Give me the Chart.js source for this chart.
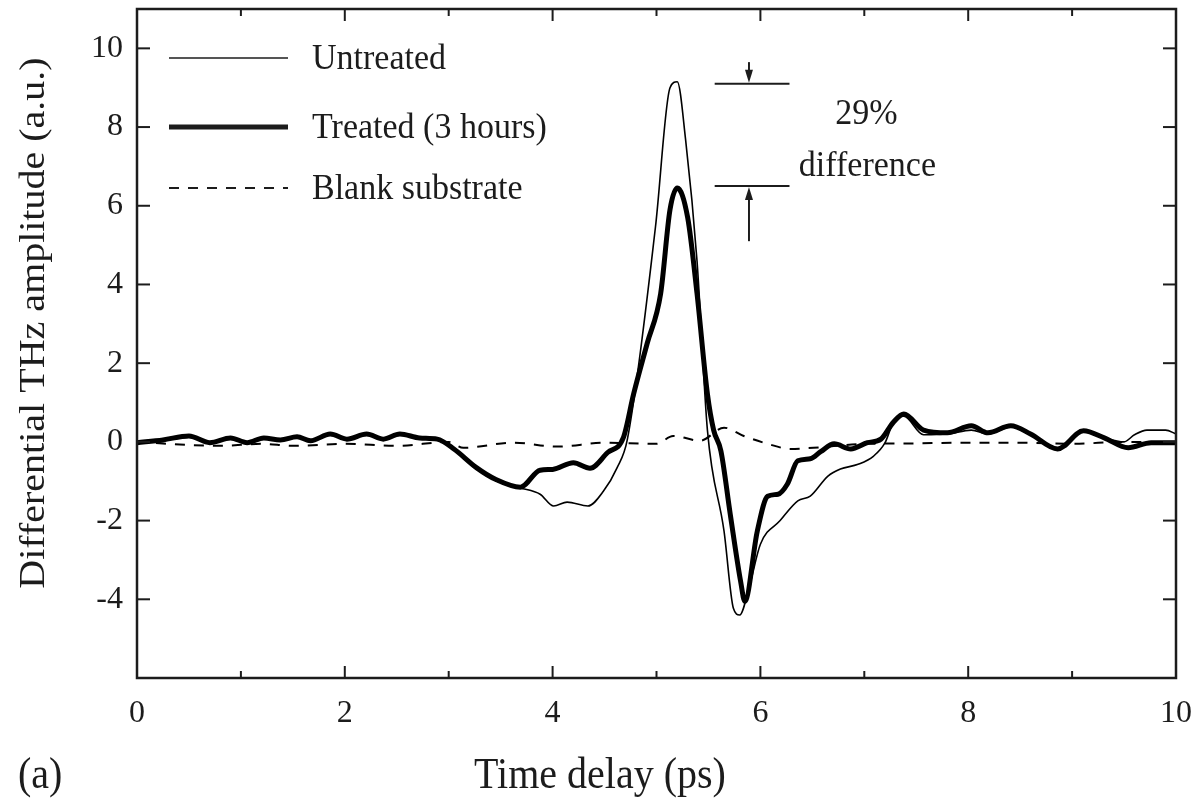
<!DOCTYPE html>
<html>
<head>
<meta charset="utf-8">
<script src="https://cdn.jsdelivr.net/npm/chart.js@4.4.0/dist/chart.umd.min.js"></script>
<style>
  html, body { margin: 0; padding: 0; background: #fff; }
  #wrap { width: 1199px; height: 798px; position: relative; }
</style>
</head>
<body>
<div id="wrap"><canvas id="thzChart"></canvas></div>
<script>
// values (time in ps, amplitude in a.u.)
const untreatedTime = [0, 0.25, 0.5, 0.7, 0.9, 1.06, 1.22, 1.38, 1.54, 1.67, 1.86, 2.02, 2.21, 2.37, 2.53, 2.72, 2.89,
  3.05, 3.27, 3.45, 3.69, 3.88, 4.01, 4.14, 4.34, 4.49, 4.62, 4.72, 4.99, 5.13, 5.2, 5.28, 5.39, 5.49, 5.65, 5.74, 5.8,
  5.9, 6.0, 6.19, 6.36, 6.48, 6.65, 6.77, 6.94, 7.09, 7.2, 7.28, 7.38, 7.57, 7.8, 8.03, 8.19, 8.41, 8.6, 8.86, 9.11,
  9.31, 9.5, 9.6, 9.72, 9.9, 10];
const untreatedAmp = [0.0, 0.03, 0.12, 0.0, 0.08, 0.0, 0.08, 0.05, 0.1, 0.05, 0.18, 0.08, 0.18, 0.1, 0.18, 0.1, 0.05,
  -0.2, -0.7, -0.98, -1.17, -1.33, -1.63, -1.53, -1.63, -1.25, -0.66, 0.07, 5.46, 9.0, 9.15, 7.68, 4.6, 0.3, -2.27, -4.23, -4.4,
  -3.6, -2.6, -2.0, -1.5, -1.38, -0.87, -0.69, -0.57, -0.36, -0.02, 0.5, 0.65, 0.18, 0.2, 0.3, 0.2, 0.38, 0.18, -0.2, 0.28,
  0.1, 0.0, 0.18, 0.3, 0.3, 0.2];

const treatedTime = [0, 0.25, 0.5, 0.7, 0.9, 1.06, 1.22, 1.38, 1.54, 1.67, 1.86, 2.02, 2.21, 2.37, 2.53, 2.72, 2.89,
  3.05, 3.27, 3.45, 3.69, 3.88, 4.0, 4.2, 4.36, 4.53, 4.68, 4.78, 4.91, 5.04, 5.13, 5.2, 5.3, 5.39, 5.49, 5.55, 5.62,
  5.71, 5.81, 5.85, 5.97, 6.07, 6.17, 6.26, 6.36, 6.48, 6.58, 6.71, 6.87, 7.03, 7.16, 7.28, 7.38, 7.57, 7.8, 8.03, 8.19,
  8.41, 8.6, 8.86, 9.11, 9.31, 9.54, 9.76, 10];
const treatedAmp = [-0.02, 0.05, 0.15, -0.02, 0.1, -0.02, 0.1, 0.05, 0.13, 0.03, 0.2, 0.07, 0.2, 0.07, 0.2, 0.1, 0.07,
  -0.18, -0.66, -0.95, -1.15, -0.72, -0.7, -0.53, -0.67, -0.27, 0.1, 1.22, 2.5, 3.77, 5.9, 6.45, 5.7, 3.77, 1.22, 0.3, -0.23,
  -1.84, -3.55, -4.05, -2.27, -1.38, -1.33, -1.07, -0.48, -0.43, -0.25, -0.05, -0.18, -0.02, 0.07, 0.5, 0.71, 0.3, 0.23, 0.41, 0.23,
  0.41, 0.2, -0.18, 0.28, 0.1, -0.15, -0.02, -0.02];

const blankTime = [0, 0.5, 0.8, 1.2, 1.5, 2.0, 2.5, 3.0, 3.14, 3.62, 4.05, 4.5, 5.0, 5.16, 5.42, 5.65, 5.84, 6.07, 6.29,
  6.51, 7.0, 7.4, 8.0, 8.5, 9.0, 9.5, 10];
const blankAmp = [0, -0.08, -0.1, -0.05, -0.1, -0.05, -0.1, 0.0, -0.15, -0.02, -0.12, -0.02, -0.05, 0.15, 0.03, 0.36, 0.15,
  -0.05, -0.18, -0.15, -0.05, -0.04, -0.02, -0.02, -0.05, 0.0, 0.0];

const seriesNames = ['Untreated', 'Treated (3 hours)', 'Blank substrate'];
const xLabelTicks = [0, 2, 4, 6, 8, 10];
const yLabelTicks = [-4, -2, 0, 2, 4, 6, 8, 10];
const peakUntreated = 9.1;
const peakTreated = 6.5;
const differenceText = ['29%', 'difference'];

const SERIF = '"Liberation Serif", "Times New Roman", "DejaVu Serif", serif';
const INK = '#1c1c1c';

function toPoints(xs, ys) {
    return xs.map((x, i) => ({ x: x, y: ys[i] }));
}

function line(ctx, x1, y1, x2, y2) {
    ctx.beginPath();
    ctx.moveTo(x1, y1);
    ctx.lineTo(x2, y2);
    ctx.stroke();
}

function arrowHead(ctx, x, y, dir) {
    // dir = 1 points down, -1 points up
    ctx.beginPath();
    ctx.moveTo(x, y);
    ctx.lineTo(x - 4, y - dir * 13);
    ctx.lineTo(x + 4, y - dir * 13);
    ctx.closePath();
    ctx.fill();
}

// the scanned figure is a bit taller than wide, so text gets a vertical stretch
function tallText(ctx, text, x, y, size, stretch, align, baseline) {
    ctx.save();
    ctx.translate(x, y);
    ctx.scale(1, stretch);
    ctx.font = size + 'px ' + SERIF;
    ctx.textAlign = align;
    ctx.textBaseline = baseline;
    ctx.fillText(text, 0, 0);
    ctx.restore();
}

// frame, inward ticks, legend, annotation and the loose texts
const decorations = {
    id: 'decorations',
    afterDatasetsDraw(chart) {
        const ctx = chart.ctx;
        const area = chart.chartArea;
        const xs = chart.scales.x;
        const ys = chart.scales.y;
        ctx.save();
        ctx.strokeStyle = INK;
        ctx.fillStyle = INK;
        ctx.setLineDash([]);

        ctx.lineWidth = 2.5;
        ctx.strokeRect(area.left, area.top, area.right - area.left, area.bottom - area.top);

        ctx.lineWidth = 2;
        xs.ticks.forEach(t => {
            const px = xs.getPixelForValue(t.value);
            const len = Math.abs(t.value) % 2 === 0 ? 12 : 7;
            line(ctx, px, area.bottom, px, area.bottom - len);
            line(ctx, px, area.top, px, area.top + len);
        });
        ys.ticks.forEach(t => {
            const py = ys.getPixelForValue(t.value);
            const len = Math.abs(t.value) % 2 === 0 ? 13 : 7;
            line(ctx, area.left, py, area.left + len, py);
            line(ctx, area.right, py, area.right - len, py);
        });

        // legend, top left inside the plot
        const order = [1, 0, 2];
        const rows = [58, 127, 188];
        order.forEach((dsIndex, i) => {
            const ds = chart.data.datasets[dsIndex];
            ctx.lineWidth = ds.borderWidth;
            ctx.setLineDash(ds.borderDash || []);
            line(ctx, 169, rows[i], 288, rows[i]);
            ctx.setLineDash([]);
            tallText(ctx, ds.label, 312, rows[i] + 1, 34, 1.07, 'left', 'middle');
        });

        // peak difference marker
        ctx.lineWidth = 2;
        const x1 = xs.getPixelForValue(5.56);
        const x2 = xs.getPixelForValue(6.28);
        const xa = xs.getPixelForValue(5.89);
        const yTop = ys.getPixelForValue(peakUntreated);
        const yLow = ys.getPixelForValue(peakTreated);
        line(ctx, x1, yTop, x2, yTop);
        line(ctx, x1, yLow, x2, yLow);
        line(ctx, xa, ys.getPixelForValue(9.65), xa, yTop - 8);
        arrowHead(ctx, xa, yTop - 1, 1);
        line(ctx, xa, ys.getPixelForValue(5.1), xa, yLow + 8);
        arrowHead(ctx, xa, yLow + 1, -1);

        tallText(ctx, differenceText[0], xs.getPixelForValue(7.02), ys.getPixelForValue(8.33), 34, 1.07, 'center', 'middle');
        tallText(ctx, differenceText[1], xs.getPixelForValue(7.03), ys.getPixelForValue(7.0), 34, 1.07, 'center', 'middle');

        // axis titles and panel tag
        tallText(ctx, 'Time delay (ps)', 600, 788, 40, 1.12, 'center', 'alphabetic');
        tallText(ctx, '(a)', 18, 788, 40, 1.12, 'left', 'alphabetic');

        ctx.translate(35, 323);
        ctx.rotate(-Math.PI / 2);
        ctx.scale(1, 0.9);
        ctx.font = '40px ' + SERIF;
        ctx.textAlign = 'center';
        ctx.textBaseline = 'middle';
        ctx.fillText('Differential THz amplitude (a.u.)', 0, 0);
        ctx.restore();
    }
};

const ctx = document.getElementById('thzChart').getContext('2d');
new Chart(ctx, {
    type: 'line',
    data: {
        datasets: [
            {
                label: seriesNames[1],
                data: toPoints(treatedTime, treatedAmp),
                borderColor: '#000',
                borderWidth: 5,
                pointRadius: 0,
                cubicInterpolationMode: 'monotone',
                fill: false
            },
            {
                label: seriesNames[0],
                data: toPoints(untreatedTime, untreatedAmp),
                borderColor: '#000',
                borderWidth: 1.6,
                pointRadius: 0,
                cubicInterpolationMode: 'monotone',
                fill: false
            },
            {
                label: seriesNames[2],
                data: toPoints(blankTime, blankAmp),
                borderColor: '#000',
                borderWidth: 2,
                borderDash: [10, 9],
                pointRadius: 0,
                cubicInterpolationMode: 'monotone',
                fill: false
            }
        ]
    },
    options: {
        responsive: true,
        maintainAspectRatio: false,
        animation: false,
        layout: { padding: { top: 9, right: 23, left: 0, bottom: 0 } },
        plugins: {
            legend: { display: false },
            tooltip: { enabled: false }
        },
        scales: {
            x: {
                type: 'linear',
                min: 0,
                max: 10,
                afterBuildTicks: s => { s.ticks = [0, 1, 2, 3, 4, 5, 6, 7, 8, 9, 10].map(v => ({ value: v })); },
                afterFit: s => { s.height = 120; s.paddingLeft = 0; s.paddingRight = 0; },
                grid: { display: false, drawTicks: false },
                border: { display: false },
                ticks: {
                    padding: 16,
                    color: INK,
                    font: { family: SERIF, size: 32 },
                    maxRotation: 0,
                    callback: v => xLabelTicks.includes(v) ? String(v) : ''
                }
            },
            y: {
                type: 'linear',
                min: -6,
                max: 11,
                afterBuildTicks: s => {
                    const t = [];
                    for (let v = -6; v <= 11; v++) t.push({ value: v });
                    s.ticks = t;
                },
                afterFit: s => { s.width = 137; s.paddingTop = 0; s.paddingBottom = 0; },
                grid: { display: false, drawTicks: false },
                border: { display: false },
                ticks: {
                    padding: 14,
                    color: INK,
                    font: { family: SERIF, size: 32 },
                    callback: v => yLabelTicks.includes(v) ? String(v) : ''
                }
            }
        }
    },
    plugins: [decorations]
});
</script>
</body>
</html>
